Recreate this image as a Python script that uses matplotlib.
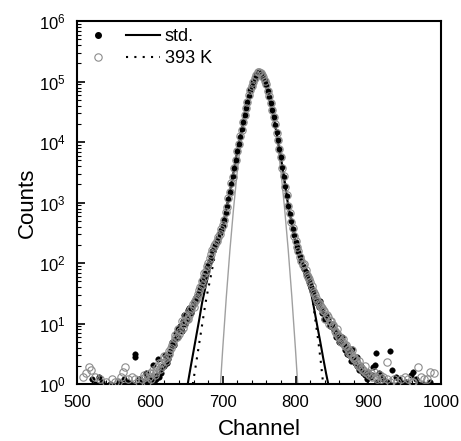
import matplotlib.pyplot as plt
from matplotlib.legend_handler import HandlerTuple
from matplotlib.lines import Line2D
from matplotlib.ticker import MultipleLocator, LogLocator
import numpy as np

plt.rcParams['font.family'] = ['Liberation Sans', 'DejaVu Sans']
plt.rcParams['mathtext.fontset'] = 'custom'
plt.rcParams['mathtext.rm'] = 'Liberation Sans'

# core of the peak (both runs nearly overlap), every 2 channels
core_ch = list(range(690, 812, 2))
core_std = [200, 229, 263, 309, 355, 417, 525, 676, 871, 1150,
            1510, 2040, 2750, 3720, 5130, 7080, 9330, 12300, 16200, 21400,
            28200, 36300, 46800, 58900, 72400, 85100, 100000, 115000, 129000, 141000,
            145000, 138000, 129000, 117000, 102000, 89100, 70800, 56200, 44700, 33900,
            26300, 19500, 14500, 10700, 7760, 5620, 3890, 2690, 1860, 1290,
            891, 661, 490, 372, 288, 224, 186, 155, 129, 107, 89]
core_393 = [210, 235, 270, 300, 365, 430, 510, 690, 850, 1180,
            1480, 2080, 2700, 3800, 5050, 7200, 9200, 12500, 16000, 21800,
            27800, 36800, 46200, 59500, 71800, 85800, 99000, 116000, 128000, 142000,
            144000, 139000, 128000, 118000, 101000, 90000, 70000, 57000, 44000, 34500,
            25800, 19900, 14200, 10900, 7600, 5750, 3800, 2750, 1820, 1320,
            870, 675, 480, 380, 282, 230, 182, 158, 126, 110, 92]

# wings, black filled points (std.)
std_wing_ch = [686, 682, 678, 675, 672, 669, 666, 663, 661, 658, 656, 653, 650, 648, 646,
               643, 641, 638, 636, 633, 631, 628, 626, 623, 621, 618, 616, 613, 611, 608,
               606, 603, 601, 598, 595, 593, 590, 587, 580, 579, 565, 558, 530, 525, 520,
               688, 684, 680, 676, 673, 670, 667, 664, 660, 657, 654, 651, 647, 644, 639,
               635, 630, 625, 620, 615, 610, 604, 600, 596, 592, 585, 575, 570, 545, 535,
               812, 815, 818, 821, 824, 826, 829, 832, 834, 837, 840, 842, 845, 848, 850,
               853, 856, 858, 861, 864, 866, 869, 872, 874, 877, 880, 882, 885, 888, 890,
               893, 896, 900, 903, 906, 909, 911, 915, 920, 925, 930, 933, 938, 945, 958,
               961, 965, 975,
               814, 817, 820, 823, 828, 831, 836, 839, 844, 847, 852, 855, 860, 863, 868,
               871, 876, 879, 884, 887, 892, 898, 905, 912, 918, 928, 942, 952, 968, 985]
std_wing = [160, 110, 85, 60, 52, 38, 30, 28, 22, 19, 15, 17, 13, 10, 11,
            8, 9, 6, 7, 4.5, 5, 3.5, 3, 2.2, 3, 2, 1.5, 1.3, 2.6, 1.2,
            1.1, 1.3, 1.0, 1.2, 1.5, 1.1, 1.0, 1.2, 3.2, 2.8, 1.2, 1.1, 1.3, 1.0, 1.2,
            175, 128, 92, 70, 48, 42, 33, 25, 24, 16, 18, 12, 14, 7.5, 8,
            5.5, 4.2, 2.6, 2.0, 1.8, 1.4, 2.1, 1.2, 1.3, 1.1, 1.2, 1.0, 1.1, 1.0, 1.1,
            80, 68, 52, 40, 33, 28, 22, 19, 24, 15, 13, 14, 11, 9.5, 10,
            8, 7, 6.5, 5.5, 6, 4.5, 4, 3.5, 3, 3.8, 2.5, 2.2, 2.8, 1.8, 2.0,
            1.6, 1.4, 1.6, 1.3, 1.9, 2.1, 3.3, 1.5, 1.2, 1.1, 3.5, 1.7, 1.3, 1.1, 1.4,
            1.6, 1.2, 1.0,
            72, 58, 45, 36, 25, 21, 17, 12, 12, 9, 8.5, 6, 5, 4.8, 3.6,
            3.2, 2.4, 2.6, 2.0, 1.7, 1.5, 1.2, 1.4, 1.1, 1.3, 1.0, 1.2, 1.1, 1.0, 1.1]

# wings, open grey points (393 K)
k393_wing_ch = [688, 684, 680, 677, 674, 671, 668, 665, 662, 659, 657, 654, 651, 649, 647,
                644, 642, 639, 637, 634, 632, 629, 627, 624, 622, 619, 617, 614, 612, 609,
                607, 604, 602, 599, 596, 592, 589, 585, 575, 570, 566, 563, 560, 556, 548,
                540, 532, 525, 519, 516, 512, 508,
                686, 682, 678, 675, 672, 669, 666, 663, 660, 655, 652, 648, 645, 640, 635,
                630, 626, 620, 615, 610, 605, 600, 594, 580, 552,
                812, 814, 817, 820, 822, 825, 828, 830, 833, 836, 839, 841, 844, 846, 849,
                852, 854, 857, 860, 862, 865, 868, 870, 873, 876, 878, 881, 884, 887, 889,
                892, 895, 898, 901, 905, 908, 912, 916, 920, 925, 935, 940, 950, 955, 960,
                968, 972, 980, 985, 990, 879, 925,
                816, 819, 824, 827, 832, 835, 838, 843, 848, 851, 856, 859, 864, 867, 872,
                875, 880, 883, 886, 891, 896, 903, 910, 918, 930, 945, 962, 976]
k393_wing = [190, 140, 100, 75, 58, 44, 36, 27, 24, 21, 18, 14, 12, 14, 10,
             11, 7.5, 8, 6, 6.5, 4.8, 4, 3.5, 2.8, 2.4, 2.9, 2.0, 1.8, 2.2, 1.6,
             1.4, 1.5, 1.2, 1.3, 1.1, 1.4, 1.2, 1.1, 1.3, 1.2, 1.9, 1.6, 1.3, 1.1, 1.2,
             1.1, 1.2, 1.3, 1.7, 1.9, 1.5, 1.3,
             165, 120, 88, 68, 50, 40, 31, 26, 19, 17, 12, 11, 8.5, 6.8, 5.8,
             4.5, 3.2, 2.6, 2.2, 1.9, 1.7, 1.5, 1.3, 1.2, 1.1,
             95, 78, 60, 48, 42, 32, 27, 24, 20, 18, 16, 12, 13, 10, 11,
             9, 7.5, 8, 6, 5, 5.5, 4.2, 4.5, 3.3, 3, 3.6, 2.6, 2.2, 2.4, 1.9,
             1.7, 2.0, 1.5, 1.4, 1.3, 1.6, 1.2, 1.4, 1.3, 1.2, 1.2, 1.1, 1.3, 1.2, 1.1,
             1.9, 1.3, 1.2, 1.6, 1.5, 2.8, 2.3,
             64, 54, 35, 30, 22, 19, 17, 14, 11, 9.5, 7, 6.5, 5.2, 4.6, 3.8,
             3.4, 2.8, 2.5, 2.1, 1.8, 1.6, 1.5, 1.3, 1.2, 1.1, 1.2, 1.1, 1.2]

# fitted curves
std_fit_ch = [652, 656, 660, 664, 668, 672, 676, 680, 685, 690, 700, 710, 720, 730, 740,
              750, 760, 770, 780, 790, 800, 810, 815, 822, 826, 830, 834, 838, 842, 845]
std_fit = [1.0, 1.9, 3.5, 6.5, 12, 23, 38, 62, 110, 190, 417, 1510, 7080, 28200, 85100,
           145000, 89100, 26300, 5620, 891, 224, 89, 55, 30, 16.5, 9, 5, 2.7, 1.5, 1.0]
k393_fit_ch = [659, 663, 667, 671, 675, 678, 683, 690, 700, 710, 720, 730, 740,
               750, 760, 770, 780, 790, 800, 810, 816, 823, 827, 831, 835, 838]
k393_fit = [1.0, 2.0, 4.1, 8.3, 17, 28, 55, 150, 417, 1510, 7080, 28200, 85100,
            145000, 89100, 26300, 5620, 891, 224, 89, 52, 30, 12, 5.5, 2.2, 1.0]
gauss_ch = [697, 700, 705, 710, 715, 720, 725, 730, 735, 740, 745, 750,
            755, 760, 765, 770, 775, 780, 785, 790, 795, 800, 803]
gauss = [1.0, 3.7, 27.5, 166, 813, 3210, 10300, 26600, 55800, 94600, 130000, 145000,
         130000, 94600, 55800, 26600, 10300, 3210, 813, 166, 27.5, 3.7, 1.0]

fig = plt.figure(figsize=(4.61, 4.41), dpi=100)
ax = fig.add_axes([0.167, 0.129, 0.79, 0.823])

ax.plot(gauss_ch, gauss, color='#a0a0a0', lw=1.0, zorder=1)
line_std, = ax.plot(std_fit_ch, std_fit, color='black', lw=1.5, zorder=2)
line_393, = ax.plot(k393_fit_ch, k393_fit, color='black', lw=1.5, ls=(0, (1, 3)), zorder=2)

open_kw = dict(ls='none', marker='o', ms=5.3, mfc='none', mec='#8c8c8c', mew=0.8)
fill_kw = dict(ls='none', marker='o', ms=4.0, mfc='black', mec='black', mew=0.3)
ax.plot(std_wing_ch, std_wing, zorder=3, **fill_kw)
ax.plot(k393_wing_ch, k393_wing, zorder=4, **open_kw)
ax.plot(core_ch, core_std, zorder=3, **fill_kw)
ax.plot(core_ch, core_393, zorder=4, **open_kw)

ax.set_xlim(500, 1000)
ax.set_yscale('log')
ax.set_ylim(1, 1e6)
ax.xaxis.set_major_locator(MultipleLocator(100))
ax.xaxis.set_minor_locator(MultipleLocator(20))
ax.yaxis.set_major_locator(LogLocator(base=10, numticks=10))
ax.yaxis.set_minor_locator(LogLocator(base=10, subs=np.arange(2, 10), numticks=10))
ax.tick_params(which='both', direction='in', top=False, right=False, labelsize=12)
ax.tick_params(axis='x', which='major', pad=8)
ax.tick_params(axis='y', which='major', pad=8)
ax.tick_params(which='major', length=6, width=1.2)
ax.tick_params(which='minor', length=3, width=0.8)
for s in ax.spines.values():
    s.set_linewidth(1.5)

ax.set_xlabel('Channel', fontsize=16, labelpad=6)
ax.set_ylabel('Counts', fontsize=16, labelpad=1)

h_std = Line2D([], [], ls='none', marker='o', ms=4.0, mfc='black', mec='black')
h_393 = Line2D([], [], ls='none', marker='o', ms=5.3, mfc='none', mec='#8c8c8c', mew=0.8)
ax.legend([(h_std, line_std), (h_393, line_393)], ['std.', '393 K'],
          handler_map={tuple: HandlerTuple(ndivide=2, pad=0.6)},
          loc='upper left', bbox_to_anchor=(-0.01, 1.0), frameon=False, fontsize=13,
          handlelength=4.4, handletextpad=0.25, borderaxespad=0.0, labelspacing=0.25)

fig.savefig('out.png', dpi=100)
